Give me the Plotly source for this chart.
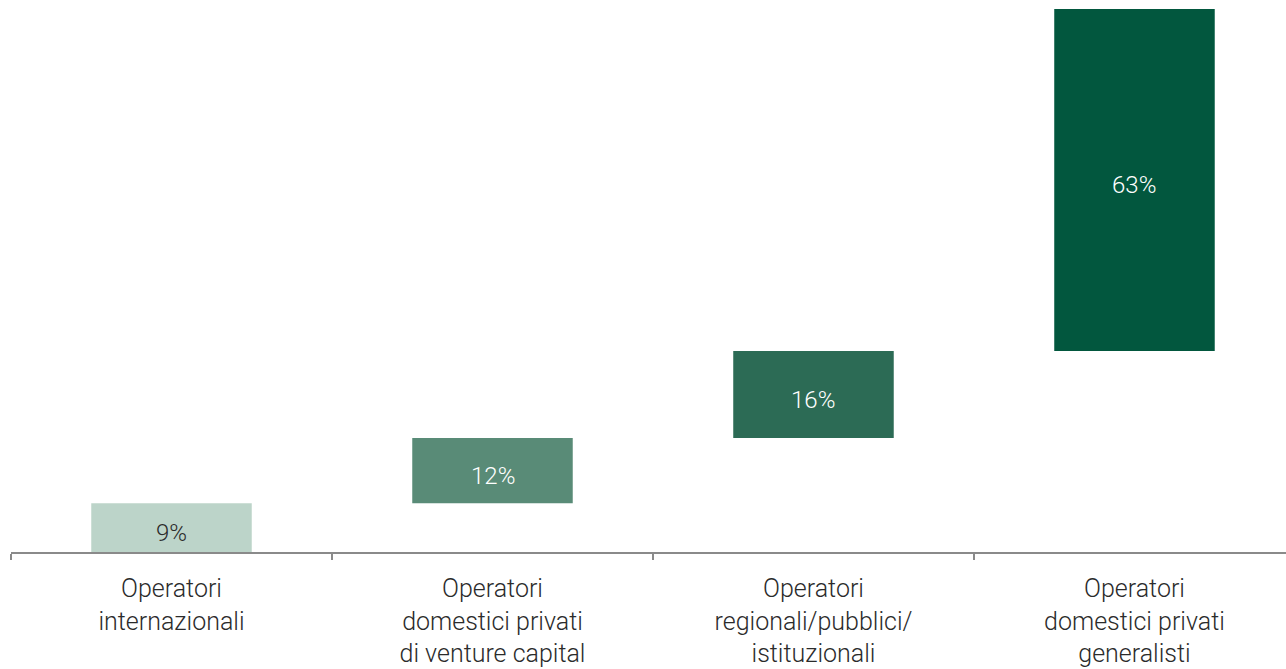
import plotly.graph_objects as go

# Quote per tipologia di operatore (contributo cumulato al 100%)
categories = [
    "Operatori<br>internazionali",
    "Operatori<br>domestici privati<br>di venture capital",
    "Operatori<br>regionali/pubblici/<br>istituzionali",
    "Operatori<br>domestici privati<br>generalisti",
]
shares = [9, 12, 16, 63]
bar_colors = ["#bcd4c9", "#598b77", "#2c6b55", "#02573e"]
text_colors = ["#2b2b2b", "#ffffff", "#ffffff", "#ffffff"]

# each block starts where the previous ones end
bases = []
running = 0
for v in shares:
    bases.append(running)
    running += v

FONT = "Roboto"

fig = go.Figure(
    go.Bar(
        x=categories,
        y=shares,
        base=bases,
        width=0.5,
        marker=dict(color=bar_colors, line=dict(width=0)),
        hoverinfo="skip",
    )
)

# value labels, placed in the middle of each block (slightly below centre)
for cat, v, b, col in zip(categories, shares, bases, text_colors):
    fig.add_annotation(
        x=cat,
        y=b + v / 2,
        text=f"{v}%",
        showarrow=False,
        yshift=-5,
        font=dict(family=FONT, size=24, color=col, weight=300),
    )

fig.update_layout(
    width=1286,
    height=669,
    margin=dict(l=11, r=0, t=9, b=117),
    paper_bgcolor="white",
    plot_bgcolor="white",
    showlegend=False,
    font=dict(family=FONT, color="#2b2b2b"),
    xaxis=dict(
        range=[-0.5, 3.472],
        showline=True,
        linecolor="#8a8a8a",
        linewidth=2,
        ticks="outside",
        tickson="boundaries",
        ticklen=6,
        tickwidth=2,
        tickcolor="#8a8a8a",
        ticklabelstandoff=13,
        tickfont=dict(family=FONT, size=25, color="#2b2b2b", weight=300),
        showgrid=False,
        zeroline=False,
    ),
    yaxis=dict(
        range=[0, 100],
        visible=False,
        showgrid=False,
        zeroline=False,
    ),
)

fig.write_html("out.html")
